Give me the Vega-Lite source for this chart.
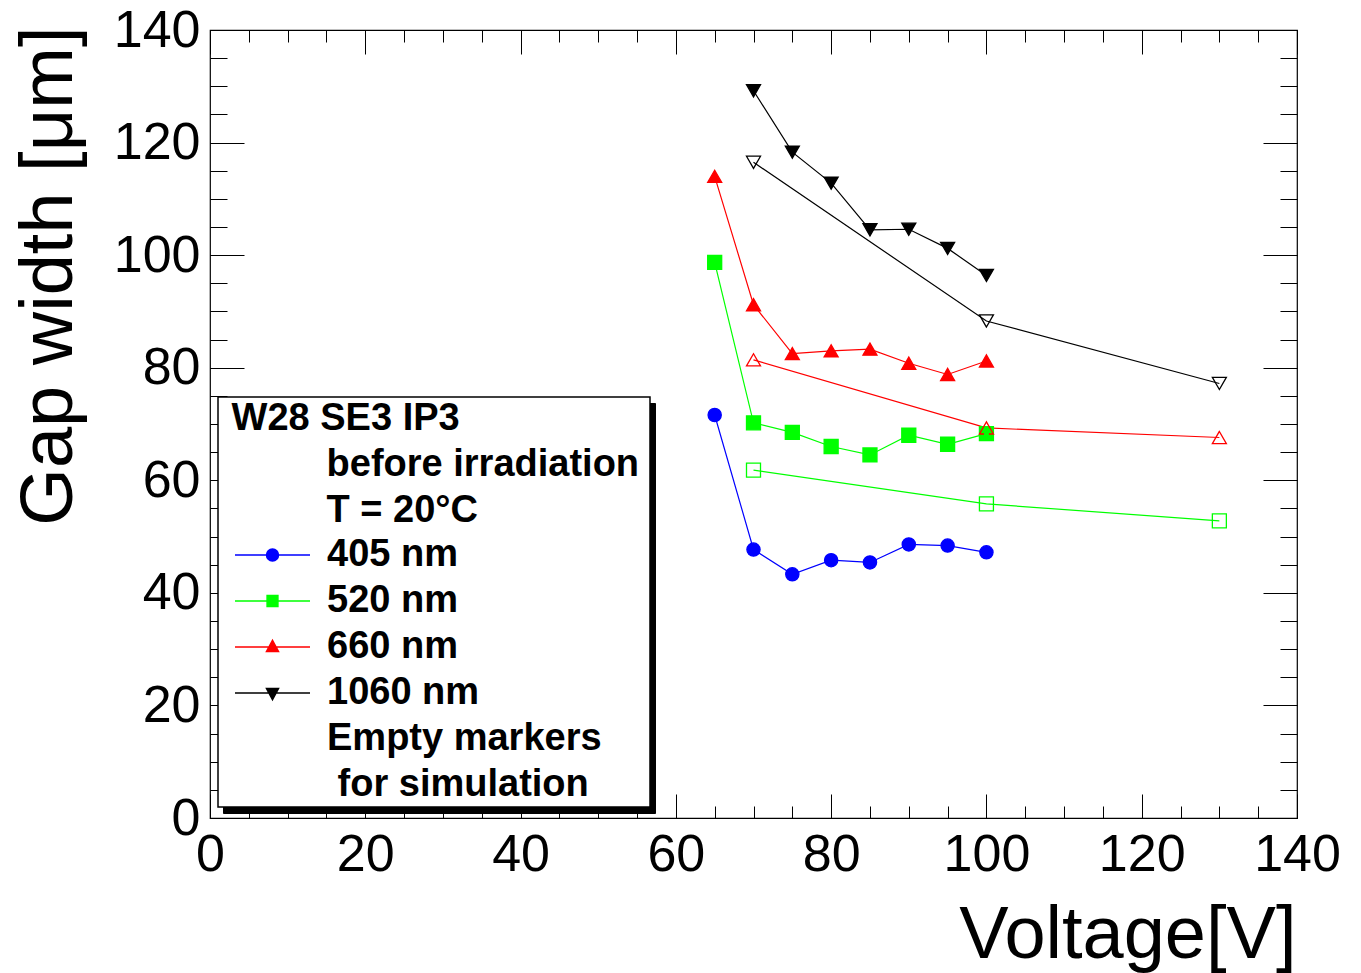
{
  "$schema": "https://vega.github.io/schema/vega-lite/v6.json",
  "width": 1087,
  "height": 788,
  "autosize": "none",
  "padding": {"left": 210, "top": 30, "right": 64, "bottom": 155},
  "background": "white",
  "config": {
    "font": "Liberation Sans",
    "view": {"stroke": "black", "strokeWidth": 1.2},
    "legend": {
      "orient": "none",
      "titleFont": "Liberation Sans", "titleFontSize": 38, "titleFontWeight": "bold",
      "titleColor": "black", "titleLineHeight": 46, "titlePadding": 6, "titleLimit": 2000,
      "labelFont": "Liberation Sans", "labelFontSize": 38, "labelFontWeight": "bold",
      "labelColor": "black", "labelLimit": 2000, "labelOffset": 35.5,
      "symbolSize": 144, "symbolStrokeWidth": 1.5, "symbolOffset": 32.5,
      "rowPadding": 8, "padding": 3
    }
  },
  "data": {
    "values": [
      {"series": "405 nm", "type": "meas", "V": 65, "gap": 71.6},
      {"series": "405 nm", "type": "meas", "V": 70, "gap": 47.7},
      {"series": "405 nm", "type": "meas", "V": 75, "gap": 43.3},
      {"series": "405 nm", "type": "meas", "V": 80, "gap": 45.8},
      {"series": "405 nm", "type": "meas", "V": 85, "gap": 45.4},
      {"series": "405 nm", "type": "meas", "V": 90, "gap": 48.6},
      {"series": "405 nm", "type": "meas", "V": 95, "gap": 48.4},
      {"series": "405 nm", "type": "meas", "V": 100, "gap": 47.2},
      {"series": "520 nm", "type": "meas", "V": 65, "gap": 98.7},
      {"series": "520 nm", "type": "meas", "V": 70, "gap": 70.2},
      {"series": "520 nm", "type": "meas", "V": 75, "gap": 68.5},
      {"series": "520 nm", "type": "meas", "V": 80, "gap": 66.0},
      {"series": "520 nm", "type": "meas", "V": 85, "gap": 64.5},
      {"series": "520 nm", "type": "meas", "V": 90, "gap": 68.0},
      {"series": "520 nm", "type": "meas", "V": 95, "gap": 66.4},
      {"series": "520 nm", "type": "meas", "V": 100, "gap": 68.3},
      {"series": "520 nm", "type": "sim", "V": 70, "gap": 61.8},
      {"series": "520 nm", "type": "sim", "V": 100, "gap": 55.8},
      {"series": "520 nm", "type": "sim", "V": 130, "gap": 52.8},
      {"series": "660 nm", "type": "meas", "V": 65, "gap": 114.0},
      {"series": "660 nm", "type": "meas", "V": 70, "gap": 91.2},
      {"series": "660 nm", "type": "meas", "V": 75, "gap": 82.5},
      {"series": "660 nm", "type": "meas", "V": 80, "gap": 83.0},
      {"series": "660 nm", "type": "meas", "V": 85, "gap": 83.3},
      {"series": "660 nm", "type": "meas", "V": 90, "gap": 80.8},
      {"series": "660 nm", "type": "meas", "V": 95, "gap": 78.8},
      {"series": "660 nm", "type": "meas", "V": 100, "gap": 81.2},
      {"series": "660 nm", "type": "sim", "V": 70, "gap": 81.4},
      {"series": "660 nm", "type": "sim", "V": 100, "gap": 69.3},
      {"series": "660 nm", "type": "sim", "V": 130, "gap": 67.6},
      {"series": "1060 nm", "type": "meas", "V": 70, "gap": 129.2},
      {"series": "1060 nm", "type": "meas", "V": 75, "gap": 118.3},
      {"series": "1060 nm", "type": "meas", "V": 80, "gap": 112.8},
      {"series": "1060 nm", "type": "meas", "V": 85, "gap": 104.5},
      {"series": "1060 nm", "type": "meas", "V": 90, "gap": 104.6},
      {"series": "1060 nm", "type": "meas", "V": 95, "gap": 101.2},
      {"series": "1060 nm", "type": "meas", "V": 100, "gap": 96.4},
      {"series": "1060 nm", "type": "sim", "V": 70, "gap": 116.5},
      {"series": "1060 nm", "type": "sim", "V": 100, "gap": 88.3},
      {"series": "1060 nm", "type": "sim", "V": 130, "gap": 77.2}
    ]
  },
  "resolve": {"axis": {"x": "independent", "y": "independent"}},
  "layer": [
    {
      "mark": {"type": "line", "strokeWidth": 1.2},
      "encoding": {
        "x": {
          "field": "V", "type": "quantitative",
          "scale": {"domain": [0, 140], "nice": false, "zero": false},
          "axis": {
            "orient": "bottom", "ticks": false, "domain": false, "grid": false,
            "values": [0, 20, 40, 60, 80, 100, 120, 140],
            "labelFlush": false, "labelOverlap": false, "labelBound": false,
            "labelFont": "Liberation Sans", "labelFontSize": 52, "labelColor": "black",
            "labelPadding": 11, "labelBaseline": "top",
            "title": "Voltage[V]", "titleFont": "Liberation Sans", "titleFontSize": 74,
            "titleFontWeight": "normal", "titleColor": "black",
            "titleAnchor": "end", "titleAlign": "right", "titleBaseline": "alphabetic",
            "titleX": 1086, "titleY": 139
          }
        },
        "y": {
          "field": "gap", "type": "quantitative",
          "scale": {"domain": [0, 140], "nice": false, "zero": false},
          "axis": {
            "orient": "left", "ticks": false, "domain": false, "grid": false,
            "values": [0, 20, 40, 60, 80, 100, 120, 140],
            "labelFlush": false, "labelOverlap": false, "labelBound": false,
            "labelFont": "Liberation Sans", "labelFontSize": 52, "labelColor": "black",
            "labelPadding": 10, "labelBaseline": "middle", "labelAlign": "right",
            "title": "Gap width [μm]", "titleFont": "Liberation Sans", "titleFontSize": 74,
            "titleFontWeight": "normal", "titleColor": "black", "titleAngle": -90,
            "titleAnchor": "end", "titleAlign": "right", "titleBaseline": "alphabetic",
            "titleX": -139, "titleY": -4
          }
        },
        "color": {
          "field": "series", "type": "nominal",
          "scale": {
            "domain": ["405 nm", "520 nm", "660 nm", "1060 nm", "Empty markers", "\u200b\u00a0for simulation"],
            "range": ["#0000ff", "#00ff00", "#ff0000", "#000000", "#ffffff", "#ffffff"]
          },
          "legend": {
            "legendX": 8, "legendY": 367, "zindex": 2,
            "title": ["\u200b\u00a0W28 SE3 IP3", "\u200b\u00a0\u00a0\u00a0\u00a0\u00a0\u00a0\u00a0\u00a0\u00a0\u00a0before irradiation\u2009\u200b", "\u200b\u00a0\u00a0\u00a0\u00a0\u00a0\u00a0\u00a0\u00a0\u00a0\u00a0T = 20°C"],
            "fillColor": "white", "strokeColor": "black",
            "encode": {
              "symbols": {"update": {
                "fill": {"scale": "color", "field": "value"},
                "stroke": {"scale": "color", "field": "value"},
                "strokeWidth": {"value": 1.5},
                "opacity": {"value": 1}
              }},
              "legend": {"update": {"strokeWidth": {"value": 1.5}}}
            }
          }
        },
        "detail": {"field": "type", "type": "nominal"}
      }
    },
    {
      "transform": [{"filter": "datum.series === '405 nm'"}],
      "mark": {"type": "point", "shape": "circle", "size": 175, "stroke": "#0000ff", "strokeWidth": 1.3, "opacity": 1},
      "encoding": {
        "x": {"field": "V", "type": "quantitative", "scale": {"domain": [0, 140], "nice": false, "zero": false},
          "axis": {"orient": "bottom", "labels": false, "domain": false, "grid": false, "title": null,
            "values": [0, 20, 40, 60, 80, 100, 120, 140], "tickSize": -24, "tickColor": "black", "tickWidth": 1}},
        "y": {"field": "gap", "type": "quantitative", "scale": {"domain": [0, 140], "nice": false, "zero": false},
          "axis": {"orient": "left", "labels": false, "domain": false, "grid": false, "title": null,
            "values": [0, 20, 40, 60, 80, 100, 120, 140], "tickSize": -34, "tickColor": "black", "tickWidth": 1}},
        "fill": {"condition": {"test": "datum.type === 'sim'", "value": "transparent"}, "value": "#0000ff"}
      }
    },
    {
      "transform": [{"filter": "datum.series === '520 nm'"}],
      "mark": {"type": "point", "shape": "square", "size": 196, "stroke": "#00ff00", "strokeWidth": 1.3, "opacity": 1},
      "encoding": {
        "x": {"field": "V", "type": "quantitative", "scale": {"domain": [0, 140], "nice": false, "zero": false},
          "axis": {"orient": "bottom", "labels": false, "domain": false, "grid": false, "title": null,
            "values": [0, 5, 10, 15, 20, 25, 30, 35, 40, 45, 50, 55, 60, 65, 70, 75, 80, 85, 90, 95, 100, 105, 110, 115, 120, 125, 130, 135, 140],
            "tickSize": -12, "tickColor": "black", "tickWidth": 1}},
        "y": {"field": "gap", "type": "quantitative", "scale": {"domain": [0, 140], "nice": false, "zero": false},
          "axis": {"orient": "left", "labels": false, "domain": false, "grid": false, "title": null,
            "values": [0, 5, 10, 15, 20, 25, 30, 35, 40, 45, 50, 55, 60, 65, 70, 75, 80, 85, 90, 95, 100, 105, 110, 115, 120, 125, 130, 135, 140],
            "tickSize": -17, "tickColor": "black", "tickWidth": 1}},
        "fill": {"condition": {"test": "datum.type === 'sim'", "value": "transparent"}, "value": "#00ff00"}
      }
    },
    {
      "transform": [{"filter": "datum.series === '660 nm'"}],
      "mark": {"type": "point", "shape": "triangle-up", "size": 196, "stroke": "#ff0000", "strokeWidth": 1.3, "opacity": 1},
      "encoding": {
        "x": {"field": "V", "type": "quantitative", "scale": {"domain": [0, 140], "nice": false, "zero": false},
          "axis": {"orient": "top", "labels": false, "domain": false, "grid": false, "title": null,
            "values": [0, 20, 40, 60, 80, 100, 120, 140], "tickSize": -24, "tickColor": "black", "tickWidth": 1}},
        "y": {"field": "gap", "type": "quantitative", "scale": {"domain": [0, 140], "nice": false, "zero": false},
          "axis": {"orient": "right", "labels": false, "domain": false, "grid": false, "title": null,
            "values": [0, 20, 40, 60, 80, 100, 120, 140], "tickSize": -34, "tickColor": "black", "tickWidth": 1}},
        "fill": {"condition": {"test": "datum.type === 'sim'", "value": "transparent"}, "value": "#ff0000"}
      }
    },
    {
      "transform": [{"filter": "datum.series === '1060 nm'"}],
      "mark": {"type": "point", "shape": "triangle-down", "size": 196, "stroke": "#000000", "strokeWidth": 1.3, "opacity": 1},
      "encoding": {
        "x": {"field": "V", "type": "quantitative", "scale": {"domain": [0, 140], "nice": false, "zero": false},
          "axis": {"orient": "top", "labels": false, "domain": false, "grid": false, "title": null,
            "values": [0, 5, 10, 15, 20, 25, 30, 35, 40, 45, 50, 55, 60, 65, 70, 75, 80, 85, 90, 95, 100, 105, 110, 115, 120, 125, 130, 135, 140],
            "tickSize": -12, "tickColor": "black", "tickWidth": 1}},
        "y": {"field": "gap", "type": "quantitative", "scale": {"domain": [0, 140], "nice": false, "zero": false},
          "axis": {"orient": "right", "labels": false, "domain": false, "grid": false, "title": null,
            "values": [0, 5, 10, 15, 20, 25, 30, 35, 40, 45, 50, 55, 60, 65, 70, 75, 80, 85, 90, 95, 100, 105, 110, 115, 120, 125, 130, 135, 140],
            "tickSize": -17, "tickColor": "black", "tickWidth": 1}},
        "fill": {"condition": {"test": "datum.type === 'sim'", "value": "transparent"}, "value": "#000000"}
      }
    },
    {
      "transform": [{"filter": "datum.type === 'meas'"}],
      "mark": {"type": "point", "filled": true},
      "encoding": {
        "x": {"field": "V", "type": "quantitative", "scale": {"domain": [0, 140], "nice": false, "zero": false}, "axis": null},
        "y": {"field": "gap", "type": "quantitative", "scale": {"domain": [0, 140], "nice": false, "zero": false}, "axis": null},
        "opacity": {
          "datum": "shadow",
          "scale": {"domain": ["shadow"], "range": [0]},
          "legend": {
            "legendX": 13, "legendY": 373, "zindex": 1,
            "title": null,
            "symbolType": "square", "symbolSize": 160000,
            "symbolFillColor": "black", "symbolStrokeColor": "black",
            "symbolOffset": 0, "labelOffset": 24,
            "labelExpr": "''",
            "fillColor": "black", "strokeColor": "black"
          }
        },
        "color": {
          "field": "series", "type": "nominal",
          "scale": {
            "domain": ["405 nm", "520 nm", "660 nm", "1060 nm", "Empty markers", "\u200b\u00a0for simulation"],
            "range": ["#0000ff", "#00ff00", "#ff0000", "#000000", "#ffffff", "#ffffff"]
          },
          "legend": {
            "legendX": 8, "legendY": 367, "zindex": 2,
            "title": ["\u200b\u00a0W28 SE3 IP3", "\u200b\u00a0\u00a0\u00a0\u00a0\u00a0\u00a0\u00a0\u00a0\u00a0\u00a0before irradiation\u2009\u200b", "\u200b\u00a0\u00a0\u00a0\u00a0\u00a0\u00a0\u00a0\u00a0\u00a0\u00a0T = 20°C"],
            "fillColor": "white", "strokeColor": "black",
            "encode": {
              "symbols": {"update": {
                "fill": {"scale": "color", "field": "value"},
                "stroke": {"scale": "color", "field": "value"},
                "strokeWidth": {"value": 1.5},
                "opacity": {"value": 1}
              }},
              "legend": {"update": {"strokeWidth": {"value": 1.5}}}
            }
          }
        },
        "shape": {
          "field": "series", "type": "nominal",
          "scale": {
            "domain": ["405 nm", "520 nm", "660 nm", "1060 nm", "Empty markers", "\u200b\u00a0for simulation"],
            "range": [
              "M-6.25,0H6.25M-1,0A1,1 0 1,0 1,0A1,1 0 1,0 -1,0Z",
              "M-6.25,0H6.25M-0.9,-0.9H0.9V0.9H-0.9Z",
              "M-6.25,0H6.25M0,-1.1L1,0.75H-1Z",
              "M-6.25,0H6.25M0,1.1L1,-0.75H-1Z",
              "M0,0",
              "M0,0"
            ]
          },
          "legend": {
            "legendX": 8, "legendY": 367, "zindex": 2,
            "title": ["\u200b\u00a0W28 SE3 IP3", "\u200b\u00a0\u00a0\u00a0\u00a0\u00a0\u00a0\u00a0\u00a0\u00a0\u00a0before irradiation\u2009\u200b", "\u200b\u00a0\u00a0\u00a0\u00a0\u00a0\u00a0\u00a0\u00a0\u00a0\u00a0T = 20°C"]
          }
        }
      }
    }
  ]
}
